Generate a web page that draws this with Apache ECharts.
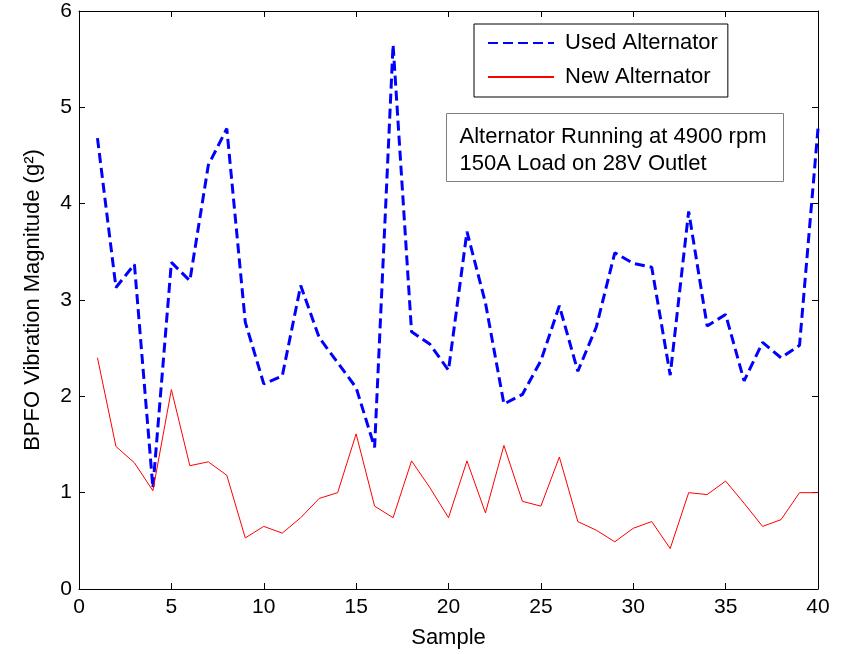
<!DOCTYPE html>
<html>
<head>
<meta charset="utf-8">
<script src="https://cdn.jsdelivr.net/npm/echarts@6/dist/echarts.min.js"></script>
<style>
  html, body { margin: 0; padding: 0; background: #fff; }
  #chart { width: 843px; height: 654px; }
</style>
</head>
<body>
<div id="chart"></div>
<script>
// sample number 1..40
const samples = [1, 2, 3, 4, 5, 6, 7, 8, 9, 10, 11, 12, 13, 14, 15, 16, 17, 18, 19, 20,
  21, 22, 23, 24, 25, 26, 27, 28, 29, 30, 31, 32, 33, 34, 35, 36, 37, 38, 39, 40];

// BPFO vibration magnitude (g^2)
const usedAlt = [4.68, 3.13, 3.37, 1.05, 3.39, 3.20, 4.40, 4.78, 2.77, 2.13,
  2.21, 3.15, 2.61, 2.35, 2.09, 1.47, 5.65, 2.67, 2.54, 2.27,
  3.71, 2.97, 1.92, 2.02, 2.37, 2.94, 2.26, 2.72, 3.49, 3.38,
  3.34, 2.22, 3.92, 2.73, 2.85, 2.16, 2.56, 2.40, 2.53, 4.78];
const newAlt = [2.40, 1.48, 1.31, 1.02, 2.07, 1.28, 1.32, 1.18, 0.53, 0.65,
  0.58, 0.74, 0.94, 1.00, 1.61, 0.86, 0.74, 1.33, 1.05, 0.74,
  1.33, 0.79, 1.49, 0.91, 0.86, 1.37, 0.70, 0.61, 0.49, 0.63,
  0.70, 0.42, 1.00, 0.98, 1.12, 0.89, 0.65, 0.72, 1.00, 1.00];

const xTicks = [0, 5, 10, 15, 20, 25, 30, 35, 40];
const yTicks = [0, 1, 2, 3, 4, 5, 6];

const noteLines = ["Alternator Running at 4900 rpm", "150A Load on 28V Outlet"];

const font = "Liberation Sans, Arial, sans-serif";

const chart = echarts.init(document.getElementById("chart"));

const baseAxis = {
  axisLine: { show: true, onZero: false, lineStyle: { color: "#000", width: 1 } },
  axisTick: { show: true, inside: true, length: 6, lineStyle: { color: "#000" } },
  splitLine: { show: false },
};

chart.setOption({
  animation: false,
  backgroundColor: "#fff",
  grid: { left: 79, right: 25, top: 11, bottom: 61, containLabel: false },
  legend: {
    orient: "vertical",
    left: 474,
    top: 24,
    padding: [8, 10, 9, 13],
    itemGap: 12,
    itemWidth: 66,
    itemHeight: 14,
    backgroundColor: "#fff",
    borderColor: "#000",
    borderWidth: 1,
    borderRadius: 0,
    // hide the marker dot, keep only the line sample
    itemStyle: { opacity: 0 },
    textStyle: { fontFamily: font, fontSize: 22, color: "#000", padding: [0, 0, 0, 6] },
    data: ["Used Alternator", "New Alternator"],
  },
  xAxis: [
    {
      ...baseAxis,
      type: "value",
      min: xTicks[0],
      max: xTicks[xTicks.length - 1],
      interval: 5,
      name: "Sample",
      nameLocation: "middle",
      nameGap: 38,
      nameTextStyle: { fontFamily: font, fontSize: 22, color: "#000" },
      axisLabel: { fontFamily: font, fontSize: 21, color: "#000", margin: 8 },
    },
    {
      ...baseAxis,
      type: "value",
      position: "top",
      min: xTicks[0],
      max: xTicks[xTicks.length - 1],
      interval: 5,
      axisLabel: { show: false },
    },
  ],
  yAxis: [
    {
      ...baseAxis,
      type: "value",
      min: yTicks[0],
      max: yTicks[yTicks.length - 1],
      interval: 1,
      name: "BPFO Vibration Magnitude (g²)",
      nameLocation: "middle",
      nameGap: 35,
      nameTextStyle: { fontFamily: font, fontSize: 22, color: "#000" },
      axisLabel: { fontFamily: font, fontSize: 21, color: "#000", margin: 7 },
    },
    {
      ...baseAxis,
      type: "value",
      position: "right",
      min: yTicks[0],
      max: yTicks[yTicks.length - 1],
      interval: 1,
      axisLabel: { show: false },
    },
  ],
  graphic: [
    {
      type: "group",
      left: 446,
      top: 113,
      z: 100,
      children: [
        {
          type: "rect",
          shape: { x: 0, y: 0, width: 337, height: 68 },
          style: { fill: "#fff", stroke: "#7f7f7f", lineWidth: 1 },
        },
        {
          type: "text",
          x: 13,
          y: 10,
          style: {
            text: noteLines.join("\n"),
            fontFamily: font,
            fontSize: 22,
            lineHeight: 27,
            fill: "#000",
          },
        },
      ],
    },
  ],
  series: [
    {
      name: "Used Alternator",
      type: "line",
      data: samples.map((s, i) => [s, usedAlt[i]]),
      showSymbol: false,
      symbol: "none",
      color: "#0000ff",
      lineStyle: { color: "#0000ff", width: 3, type: [10, 5] },
    },
    {
      name: "New Alternator",
      type: "line",
      data: samples.map((s, i) => [s, newAlt[i]]),
      showSymbol: false,
      symbol: "none",
      color: "#ff0000",
      lineStyle: { color: "#ff0000", width: 1 },
    },
  ],
});
</script>
</body>
</html>
